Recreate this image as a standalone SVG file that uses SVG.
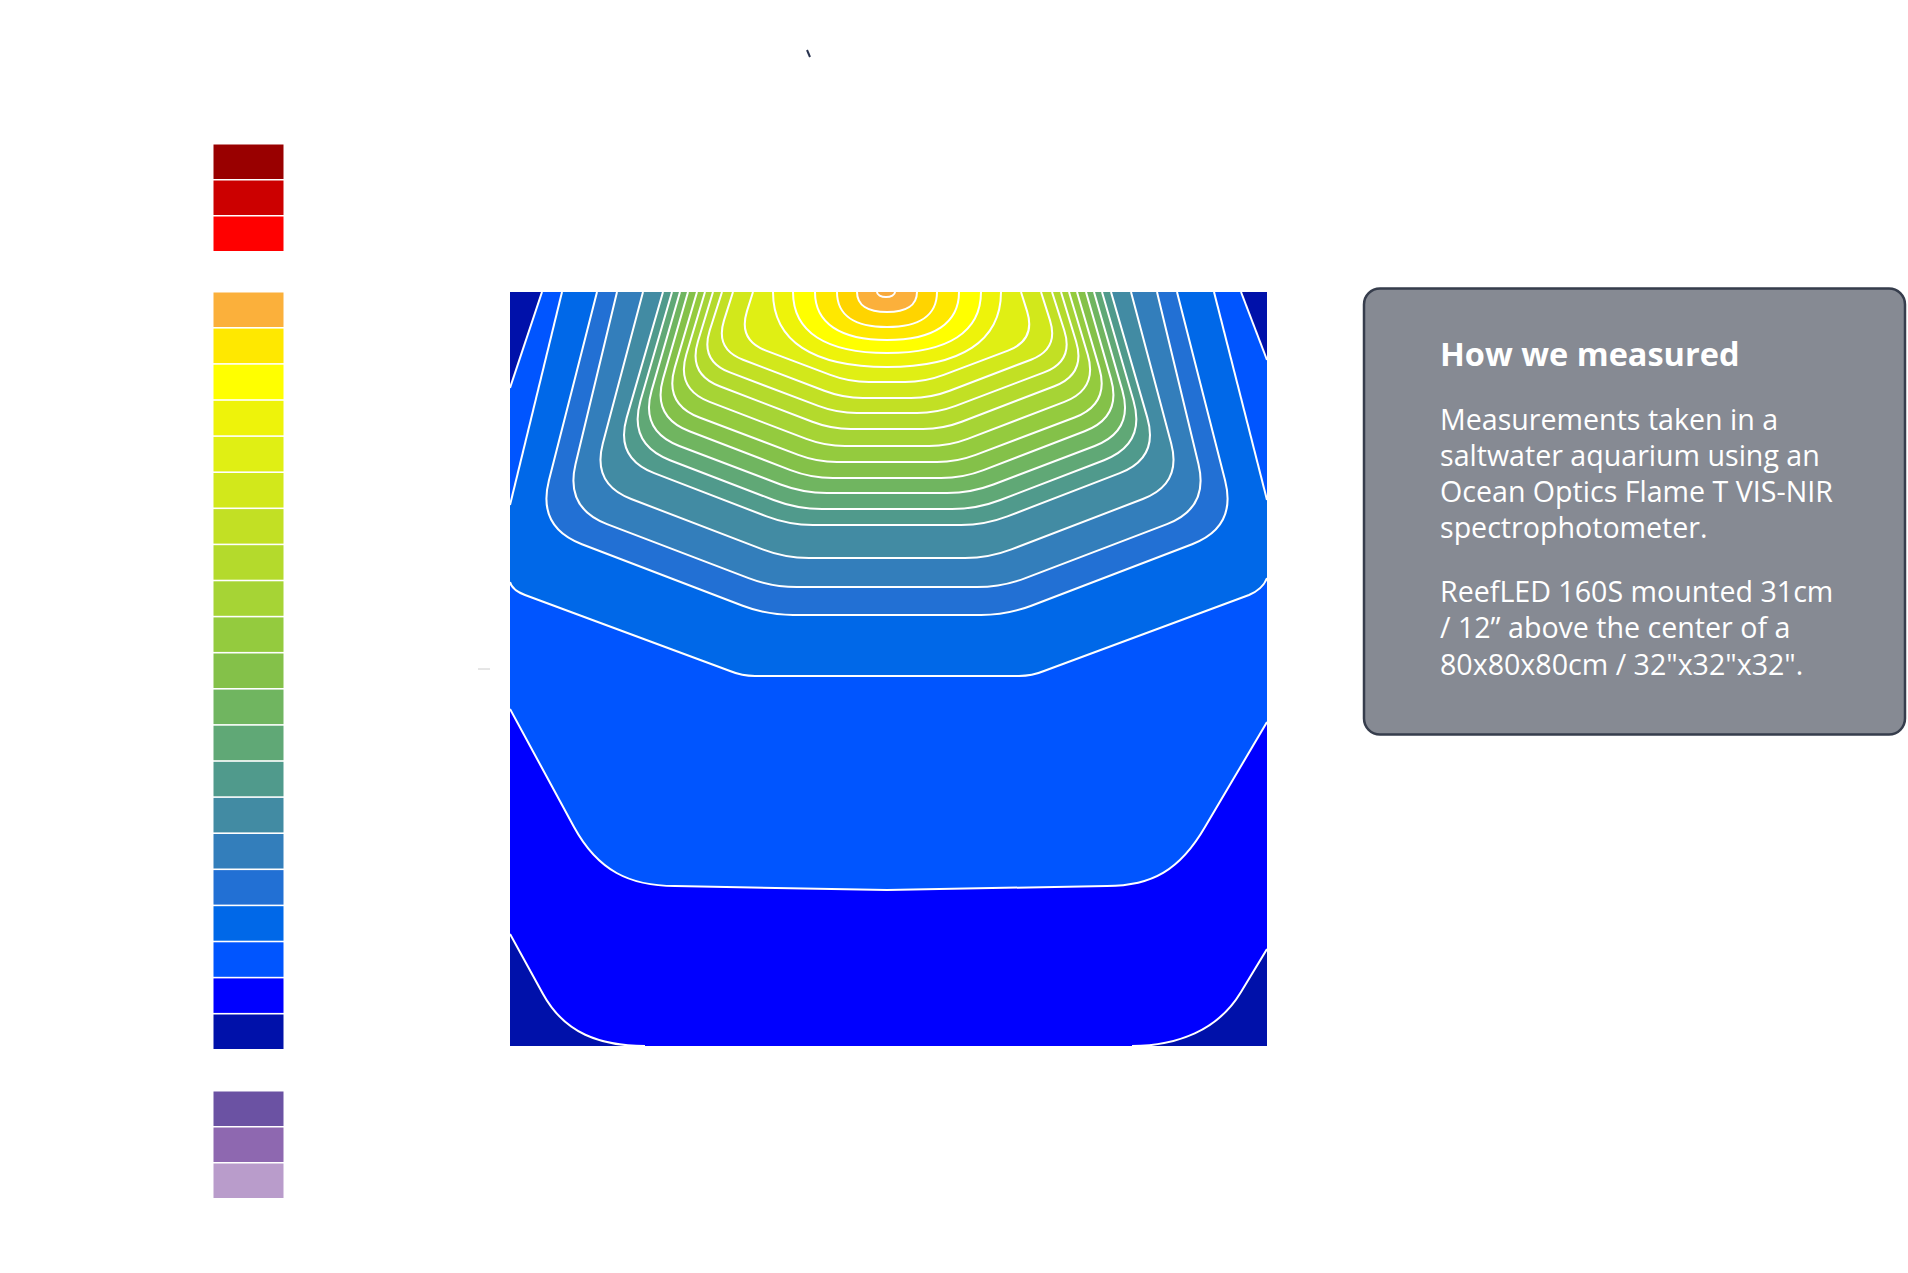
<svg xmlns="http://www.w3.org/2000/svg" width="1908" height="1273" viewBox="0 0 1908 1273">
<style>
.sw{stroke:none}
.cl{fill:none;stroke:#ffffff;stroke-width:2;stroke-linejoin:round}
.band{stroke:#ffffff;stroke-width:2;stroke-linejoin:round}
.hd{font-family:"Open Sans","Noto Sans","DejaVu Sans",sans-serif;font-weight:700;font-size:32.5px;fill:#ffffff}
.bd{font-family:"Open Sans","Noto Sans","DejaVu Sans",sans-serif;font-size:28.6px;fill:#ffffff}
</style>
<defs>
<clipPath id="plotclip"><rect x="510" y="292" width="757" height="754"/></clipPath>
</defs>
<rect x="0" y="0" width="1908" height="1273" fill="#ffffff"/>

<g id="marks">
<path d="M807 50 L810 57" stroke="#2a3450" stroke-width="2" fill="none"/>
<path d="M478 669 L490 669" stroke="#cccccc" stroke-width="1" fill="none"/>
</g>

<g id="legend">
<rect class="sw" x="213.5" y="144.5" width="70" height="34.5" fill="#990000"/>
<rect class="sw" x="213.5" y="180.5" width="70" height="34.5" fill="#CC0000"/>
<rect class="sw" x="213.5" y="216.5" width="70" height="34.5" fill="#FF0000"/>
<rect class="sw" x="213.5" y="292.5" width="70" height="34.5" fill="#FBB03B"/>
<rect class="sw" x="213.5" y="328.6" width="70" height="34.5" fill="#FFE800"/>
<rect class="sw" x="213.5" y="364.7" width="70" height="34.5" fill="#FFFF00"/>
<rect class="sw" x="213.5" y="400.8" width="70" height="34.5" fill="#EEF30A"/>
<rect class="sw" x="213.5" y="436.9" width="70" height="34.5" fill="#E0EF14"/>
<rect class="sw" x="213.5" y="473.0" width="70" height="34.5" fill="#D2E81B"/>
<rect class="sw" x="213.5" y="509.1" width="70" height="34.5" fill="#C2E024"/>
<rect class="sw" x="213.5" y="545.2" width="70" height="34.5" fill="#B4DA2C"/>
<rect class="sw" x="213.5" y="581.3" width="70" height="34.5" fill="#A6D435"/>
<rect class="sw" x="213.5" y="617.4" width="70" height="34.5" fill="#94CB3E"/>
<rect class="sw" x="213.5" y="653.5" width="70" height="34.5" fill="#84C149"/>
<rect class="sw" x="213.5" y="689.6" width="70" height="34.5" fill="#70B560"/>
<rect class="sw" x="213.5" y="725.7" width="70" height="34.5" fill="#60A876"/>
<rect class="sw" x="213.5" y="761.8" width="70" height="34.5" fill="#509A8C"/>
<rect class="sw" x="213.5" y="797.9" width="70" height="34.5" fill="#428BA3"/>
<rect class="sw" x="213.5" y="834.0" width="70" height="34.5" fill="#337EBB"/>
<rect class="sw" x="213.5" y="870.1" width="70" height="34.5" fill="#2270D4"/>
<rect class="sw" x="213.5" y="906.2" width="70" height="34.5" fill="#0068E8"/>
<rect class="sw" x="213.5" y="942.3" width="70" height="34.5" fill="#0055FF"/>
<rect class="sw" x="213.5" y="978.4" width="70" height="34.5" fill="#0000FF"/>
<rect class="sw" x="213.5" y="1014.5" width="70" height="34.5" fill="#0011AA"/>
<rect class="sw" x="213.5" y="1091.5" width="70" height="34.5" fill="#6B52A3"/>
<rect class="sw" x="213.5" y="1127.5" width="70" height="34.5" fill="#8E68B0"/>
<rect class="sw" x="213.5" y="1163.5" width="70" height="34.5" fill="#B99CCB"/>
</g>

<g id="plot" clip-path="url(#plotclip)">
<rect x="510" y="292" width="757" height="754" fill="#0011AA"/>
<path fill="#0000FF" d="M542 292 L510 388 L510 934 L543 994 C564.7 1033.4 600 1046 645 1046 L1132 1046 C1177 1046 1218 1030.5 1241 992 L1267 949 L1267 360 L1241 292 Z"/>
<path fill="#0055FF" d="M542 292 L510 388 L510 709 L574 827 C598 871 630 886 675 886 L887 890 L1107 886 C1152 886 1180 870 1205 827 L1267 722 L1267 360 L1241 292 Z"/>
<path fill="#0068E8" d="M562 292 L510 505 L510 582 Q512 590 525 595 L730 671 Q742 676 755 676 L1019 676 Q1032 676 1044 671 L1249 595 Q1263 589 1267 578 L1267 500 L1214 292 Z"/>
<g id="contours">
<path class="cl" d="M542 292 L510 388"/>
<path class="cl" d="M1241 292 L1267 360"/>
<path class="cl" d="M510 934 L543 994 C564.7 1033.4 600 1046 645 1046"/>
<path class="cl" d="M1132 1046 C1177 1046 1218 1030.5 1241 992 L1267 949"/>
<path class="cl" d="M510 709 L574 827 C598 871 630 886 675 886 L887 890 L1107 886 C1152 886 1180 870 1205 827 L1267 722"/>
<path class="cl" d="M562 292 L510 505"/>
<path class="cl" d="M510 582 Q512 590 525 595 L730 671 Q742 676 755 676 L1019 676 Q1032 676 1044 671 L1249 595 Q1263 589 1267 578"/>
<path class="cl" d="M1267 500 L1214 292"/>
<path class="band" fill="#2270D4" d="M597 292 L548.9 480.5 Q537 527 581.9 544.2 L742.7 605.7 Q767 615 793 615 L981 615 Q1007 615 1031.3 605.7 L1192.1 544.2 Q1237 527 1225.1 480.5 L1177 292"/>
<path class="band" fill="#337EBB" d="M617 292 L575.5 464.2 Q565 508 607 524.1 L748.6 578.1 Q772 587 797 587 L977 587 Q1002 587 1025.4 578.1 L1167 524.1 Q1209 508 1198.5 464.2 L1157 292"/>
<path class="band" fill="#428BA3" d="M643 292 L602.8 443.4 Q592 484 631.2 499 L762.6 549.4 Q785 558 809 558 L965 558 Q989 558 1011.4 549.4 L1142.8 499 Q1182 484 1171.2 443.4 L1131 292"/>
<path class="band" fill="#509A8C" d="M663 292 L626.7 417.6 Q615 458 654.2 473.1 L766.6 516.4 Q789 525 813 525 L961 525 Q985 525 1007.4 516.4 L1119.8 473.1 Q1159 458 1147.3 417.6 L1111 292"/>
<path class="band" fill="#60A876" d="M672 292 L640.5 400.8 Q628 444 670 460.2 L773.6 500 Q797 509 822 509 L952 509 Q977 509 1000.4 500 L1104 460.2 Q1146 444 1133.5 400.8 L1102 292"/>
<path class="band" fill="#70B560" d="M680 292 L651.6 390.6 Q640 431 679.3 446 L780.6 484.5 Q803 493 827 493 L947 493 Q971 493 993.4 484.5 L1094.7 446 Q1134 431 1122.4 390.6 L1094 292"/>
<path class="band" fill="#84C149" d="M688 292 L663.1 378.6 Q652 417 689.4 431.3 L790.5 470.1 Q811 478 833 478 L941 478 Q963 478 983.5 470.1 L1084.6 431.3 Q1122 417 1110.9 378.6 L1086 292"/>
<path class="band" fill="#94CB3E" d="M697 292 L674.8 367.6 Q664 404 699.5 417.5 L798.3 454.9 Q817 462 837 462 L937 462 Q957 462 975.7 454.9 L1074.5 417.5 Q1110 404 1099.2 367.6 L1077 292"/>
<path class="band" fill="#A6D435" d="M705 292 L686.3 354.5 Q676 389 709.6 401.9 L806.3 438.9 Q825 446 845 446 L929 446 Q949 446 967.7 438.9 L1064.4 401.9 Q1098 389 1087.7 354.5 L1069 292"/>
<path class="band" fill="#B4DA2C" d="M713 292 L697.9 341.5 Q688 374 719.7 386.2 L812.3 421.8 Q831 429 851 429 L923 429 Q943 429 961.7 421.8 L1054.3 386.2 Q1086 374 1076.1 341.5 L1061 292"/>
<path class="band" fill="#C2E024" d="M722 292 L709.7 330.5 Q700 361 729.9 372.4 L818.3 405.9 Q837 413 857 413 L917 413 Q937 413 955.7 405.9 L1044.1 372.4 Q1074 361 1064.3 330.5 L1052 292"/>
<path class="band" fill="#D2E81B" d="M733 292 L724 320.4 Q715 349 743 359.7 L824.3 390.8 Q843 398 863 398 L911 398 Q931 398 949.7 390.8 L1031 359.7 Q1059 349 1050 320.4 L1041 292"/>
<path class="band" fill="#E0EF14" d="M753 292 L746.9 311.4 Q738 340 766 350.6 L830.3 374.9 Q849 382 869 382 L905 382 Q925 382 943.7 374.9 L1008 350.6 Q1036 340 1027.1 311.4 L1021 292"/>
<path class="band" fill="#EEF30A" d="M773 292 C773 341 813 367 887 367 C961 367 1001 341 1001 292"/>
<path class="band" fill="#FFFF00" d="M793 292 C793 332 826 353 887 353 C948 353 981 332 981 292"/>
<path class="band" fill="#FFE800" d="M815 292 C815 323 840 340 887 340 C934 340 959 323 959 292"/>
<path class="band" fill="#FFD400" d="M837 292 C837 315 854.5 327 887 327 C919.5 327 937 315 937 292"/>
<path class="band" fill="#FBB03B" d="M857 292 C857 305 867.5 312 887 312 C906.5 312 917 305 917 292"/>
<path class="band" fill="#F8A93A" d="M877 292 A9 5 0 0 0 895 292"/>
</g>
</g>

<g id="info-box">
<rect x="1364" y="288.5" width="541" height="446" rx="16" ry="16" fill="#868A93" stroke="#363D4C" stroke-width="2.5"/>
<text class="hd" x="1440" y="366">How we measured</text>
<text class="bd" x="1440" y="430">Measurements taken in a</text>
<text class="bd" x="1440" y="466">saltwater aquarium using an</text>
<text class="bd" x="1440" y="502">Ocean Optics Flame T VIS-NIR</text>
<text class="bd" x="1440" y="538">spectrophotometer.</text>
<text class="bd" x="1440" y="602">ReefLED 160S mounted 31cm</text>
<text class="bd" x="1440" y="638">/ 12” above the center of a</text>
<text class="bd" x="1440" y="675">80x80x80cm / 32"x32"x32".</text>
</g>
</svg>
